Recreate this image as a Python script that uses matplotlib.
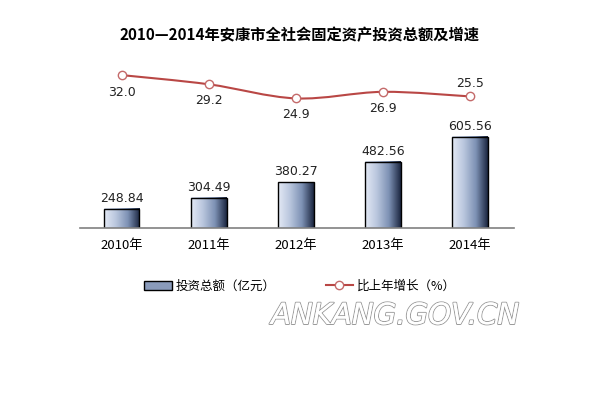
import numpy as np
import matplotlib.pyplot as plt
import matplotlib.patheffects as pe
from matplotlib.path import Path
from matplotlib.patches import PathPatch, Rectangle
from matplotlib.lines import Line2D
from matplotlib.colors import LinearSegmentedColormap

plt.rcParams['font.family'] = ['Noto Sans CJK SC', 'DejaVu Sans']

years = ['2010年', '2011年', '2012年', '2013年', '2014年']
invest = [248.84, 304.49, 380.27, 482.56, 605.56]
growth = [32.0, 29.2, 24.9, 26.9, 25.5]
growth_labels = ['32.0', '29.2', '24.9', '26.9', '25.5']

fig = plt.figure(figsize=(6, 4), dpi=100)
ax = fig.add_axes([0.133, 0.43, 0.723, 0.42])
ax2 = ax.twinx()

x = np.arange(len(years))
bw = 0.41
ymin, ymax = 154.7, 986
cmap = LinearSegmentedColormap.from_list('bar', ['#e4eaf5', '#b9c6dd', '#7d91b4', '#1b2640'])
grad = np.linspace(0, 1, 256).reshape(1, -1)

bars = ax.bar(x, invest, width=bw, bottom=0, facecolor='none', edgecolor='black', linewidth=1.0, zorder=3)
for b in bars:
    x0, w, h = b.get_x(), b.get_width(), b.get_height()
    ax.imshow(grad, extent=[x0, x0 + w, ymin, h], aspect='auto', cmap=cmap, zorder=2)

ax.set_xlim(-0.48, 4.5)
ax.set_ylim(ymin, ymax)
for xi, v in zip(x, invest):
    ax.text(xi, v + 20, f'{v:.2f}', ha='center', va='bottom', fontsize=9, family='DejaVu Sans', color='#222222')

for s in ['top', 'right', 'left']:
    ax.spines[s].set_visible(False)
    ax2.spines[s].set_visible(False)
ax2.spines['bottom'].set_visible(False)
ax.spines['bottom'].set_color('#808080')
ax.spines['bottom'].set_linewidth(1.2)
ax.spines['bottom'].set_zorder(4)
ax.set_yticks([])
ax2.set_yticks([])
ax.set_xticks(x)
ax.set_xticklabels(years, fontsize=9.5)
ax.tick_params(axis='x', length=0, pad=8)

# smooth growth line (Catmull-Rom as Bezier)
pts = np.column_stack([x, growth]).astype(float)
verts = [tuple(pts[0])]
codes = [Path.MOVETO]
for i in range(len(pts) - 1):
    p0 = pts[i - 1] if i > 0 else pts[i]
    p1, p2 = pts[i], pts[i + 1]
    p3 = pts[i + 2] if i + 2 < len(pts) else pts[i + 1]
    c1 = p1 + (p2 - p0) / 6
    c2 = p2 - (p3 - p1) / 6
    verts += [tuple(c1), tuple(c2), tuple(p2)]
    codes += [Path.CURVE4] * 3
ax2.add_patch(PathPatch(Path(verts, codes), facecolor='none', edgecolor='#b94745', linewidth=1.5, zorder=4))
ax2.plot(x, growth, linestyle='none', marker='o', markersize=6, markerfacecolor='white',
         markeredgecolor='#c46a6a', markeredgewidth=1.0, zorder=5)
ax2.set_ylim(-14.6, 36.6)
offsets = [-5.2, -5.0, -4.8, -5.0, 4.0]
for xi, v, lab, off in zip(x, growth, growth_labels, offsets):
    ax2.text(xi, v + off, lab, ha='center', va='center', fontsize=9, family='DejaVu Sans', color='#222222')

fig.text(0.5, 0.912, '2010—2014年安康市全社会固定资产投资总额及增速', ha='center', va='center',
         fontsize=11, fontweight='bold')

# legend
bar_handle = Rectangle((0, 0), 1, 1, facecolor='#8a9bbb', edgecolor='black')
line_handle = Line2D([], [], color='#b94745', linewidth=1.5, marker='o', markersize=6,
                     markerfacecolor='white', markeredgecolor='#c46a6a')
fig.legend([bar_handle, line_handle], ['投资总额（亿元）', '比上年增长（%）'], loc='center',
           bbox_to_anchor=(0.5, 0.285), ncol=2, frameon=False, fontsize=9,
           handlelength=2.2, columnspacing=4.0, handletextpad=0.3)

fig.text(0.658, 0.21, 'ANKANG.GOV.CN', ha='center', va='center', fontsize=21,
         style='italic', family='DejaVu Sans', color='white',
         path_effects=[pe.withStroke(linewidth=1.4, foreground='#9a9a9a'), pe.Normal()])

fig.savefig('out.png', dpi=100)
